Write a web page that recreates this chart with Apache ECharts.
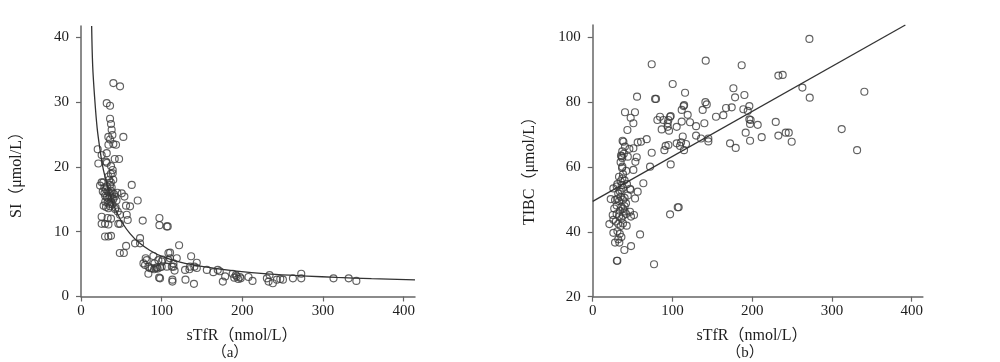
<!DOCTYPE html>
<html>
<head>
<meta charset="utf-8">
<script src="https://cdn.jsdelivr.net/npm/echarts@6/dist/echarts.min.js"></script>
<style>
html,body{margin:0;padding:0;background:#fff;}
#c{width:1000px;height:362px;}
</style>
</head>
<body>
<div id="c"></div>
<script>
// ---------- Data ----------
const xTicks = [0, 100, 200, 300, 400];
const siTicks = [0, 10, 20, 30, 40];
const tibcTicks = [20, 40, 60, 80, 100];

const xName = 'sTfR（nmol/L）';
const siName = 'SI（μmol/L）';
const tibcName = 'TIBC（μmol/L）';
const panelA = '（a）';
const panelB = '（b）';

// Panel (a): sTfR vs SI
const siPoints = [
 [40.1,32.9],[48.4,32.4],[31.9,29.8],[36,29.4],[36,27.4],[37.2,26.6],[38,25.7],[38.9,24.9],[33.9,24.6],[52.5,24.6],
 [36,24.2],[40.1,23.5],[43.4,23.4],[34,23.4],[41.8,21.2],[47.2,21.2],[20.7,22.7],[31.9,22.1],[25.6,21.8],[21.5,20.5],
 [31,20.8],[32,20.6],[37.2,20.1],[39.3,19.5],[39.3,19.0],[37,18.9],[34,18.5],[40,18],[25.6,17.6],[23.6,17.1],[27.7,17.6],
 [29,16.8],[31,16.5],[33,16.2],[35,16.0],[37,16.3],[39,16.0],[41,15.8],[30,15.5],[32,15.3],[34,15.1],[36,15.5],
 [38,15.2],[40,15.0],[42,15.4],[30,14.6],[33,14.5],[35,14.3],[37,14.6],[39,14.2],[31,13.8],[34,13.6],[36,13.9],
 [29,15.9],[32,17.0],[36,17.2],[38,16.8],[27,16.2],[28,14.0],[44,14.8],[45,16.0],[43,13.7],[35,18.0],[37,17.6],
 [62.9,17.2],[70.3,14.8],[53.8,15.4],[50.5,15.9],[55.8,14],[60.8,13.9],[42.2,13.5],[45.5,13.1],[48.4,12.6],[56.7,12.6],
 [57.9,11.8],[25.6,12.3],[25.6,11.2],[33,12.1],[37.2,12],[46.3,11.2],[48.4,11.2],[29.8,11.2],[34,11.1],[29.8,9.25],
 [33.9,9.25],[37.2,9.35],[76.5,11.7],[67,8.2],[73.2,9.0],[73.2,8.2],[55.9,7.8],[48.1,6.7],[53.1,6.7],[97.2,12.1],
 [97.2,11],[106.3,10.8],[107.5,10.8],[121.6,7.9],[108.4,6.7],[101.3,5.7],[80.2,5.9],[77.4,5.1],
 [81.5,5.6],[89.7,6.25],[95.9,5.6],[100.1,5.4],[108.3,5.6],[110.4,6.76],[118.7,5.9],[79.4,4.86],[85.6,4.35],[90.6,4.2],
 [92.7,4.35],[95,4.3],[98,4.5],[83.5,3.5],[96.8,2.9],[87.7,4.37],[91,5.1],[94,4.5],[83.6,4.6],[100,4.6],[106.3,4.6],
 [112.6,4.6],[114.6,4.6],[110.4,5.9],[114.6,5.1],[116,4.0],[129,4.1],[134.4,4.2],
 [136.5,6.2],[143.5,5.2],[135.2,4.6],[140.5,4.6],[143.5,4.4],[98,2.8],[113.3,2.6],[113.3,2.3],[129.5,2.6],[140,1.95],
 [156,4.1],[164,3.75],[169.5,4.1],[172,3.9],[175.8,2.3],[178.7,3.1],[188,3.5],[190,2.9],[193,3.1],[195,2.7],[197,3.0],
 [198,2.8],[192,3.3],[207.6,3],[212.6,2.4],[230.4,2.8],[233.7,3.3],[232.5,2.3],[237.8,2.05],[242.8,2.6],[247,2.7],
 [250.3,2.6],[262.7,2.8],[273,3.5],[273,2.8],[313,2.8],[331.8,2.8],[341.3,2.4]
];
// fitted curve for panel (a)
const siCurve = [
 [13.2,41.7],[14.5,35.5],[17,30.5],[20,26],[23.6,22.6],[27,20],[31.8,17.5],[37,15.2],[44.3,13],[52.5,11.1],
 [60.8,9.7],[71,8.4],[85.6,7.1],[102,6.1],[122.8,5.3],[151.7,4.6],[190,3.95],[234.5,3.45],[280,3.15],[317,2.95],
 [360,2.75],[414,2.55]
];

// Panel (b): sTfR vs TIBC
const tibcPoints = [
 [74,91.7],[141.7,92.8],[186.8,91.4],[271.7,99.5],[100.3,85.6],[232.8,88.2],[238.2,88.4],[262.9,84.5],[272.1,81.4],
 [340.6,83.2],[312.2,71.7],[331.5,65.2],[55.6,81.7],[78.2,81],[79.4,81],[115.8,82.9],[114,78.8],[114.6,79.1],[141.3,80],
 [143,79.3],[176.4,84.3],[178.5,81.5],[190.2,82.2],[188.9,77.8],[196.4,78.8],[194.4,77.3],[196.4,74.7],[198,74.5],
 [197.3,73.3],[206.9,73],[229.5,73.9],[232.8,69.7],[242,70.6],[245.8,70.6],[249.5,67.8],[191.8,70.6],[197.3,68.1],
 [211.9,69.2],[172.2,67.3],[179.3,65.9],[174.3,78.4],[167.2,78.2],[163.8,76],[154.6,75.5],[137.9,77.6],[140,73.5],
 [129.6,72.6],[122,73.8],[119.1,76.1],[111.6,77.6],[111.6,74],[105.3,72.4],[97,75.5],[97.8,75.7],[84.4,75.5],
 [88.6,74.5],[94.9,74.5],[94,73.5],[81.1,74.5],[94,72.4],[86.5,71.6],[95.7,71.2],[112.9,69.4],[129.6,69.7],[135.8,68.8],
 [145,68.8],[145,67.9],[117,67.1],[110.8,67.6],[109.5,66.5],[114.5,65.2],[105.3,67.3],[94.9,66.8],[91.5,66.5],
 [89.9,65.2],[97.8,60.8],[74,64.4],[71.9,60.1],[67.7,68.6],[60.6,67.8],[56.4,67.6],[51,65.8],[55.2,63],[53.5,61.6],
 [51,59.1],[46,65.6],[40.5,66.3],[38.5,67.8],[37.5,68.1],[36.4,63.3],[35.5,63.5],[37,62.8],[44,63.2],[43.5,71.4],
 [47.6,75.2],[51,73.5],[40.5,76.9],[53,76.9],[37.2,60.1],[36.8,59.7],[37.2,56.5],[36.4,54.4],[30.9,54.7],[30.1,54],
 [25.9,53.4],[22.6,50.1],[63.5,55],[46.8,53.3],[47.5,53],[53.1,50.3],[56.4,52.4],[41.8,48.8],[42.6,41.9],[46.8,46.2],
 [48,44.7],[51.8,45.2],[59.4,39.2],[39.7,34.4],[48.1,35.6],[33.4,36.7],[28,36.7],[25.9,39.7],[20.9,42.4],[25.1,45.2],
 [25.9,43.7],[30.9,31.1],[30.3,31.1],[76.9,30],[97,45.4],[106.6,47.6],[107.8,47.6],
 [28,49.8],[31,50.2],[33,49.5],[35,50.8],[38,49.9],[40,50.5],[44,51.2],[32,51.8],[34,52.5],[36,52.9],[38,53.6],
 [35,55.6],[33,57],[38,57.8],[36,47.7],[38,47.2],[40,47.9],[34,46.5],[30,45.5],[33,44.8],[36,44.1],[38,45],
 [29,43.2],[32,42.5],[35,41.8],[38,42.6],[31,40.2],[34,39.4],[36,38.4],[32,37.7],[40,46.3],[42,45.5],[27,47.2],
 [30,48.1],[35,61.5],[37,64.8],[39,64.1],[42,58.8],[40,55.9],[43,54.7]
];
// fitted line for panel (b)
const tibcLine = [[0,49.4],[392,103.8]];

// ---------- Chart ----------
const FONT = "'Liberation Serif', 'Noto Sans CJK SC', serif";
const TXT = '#1e1e1e';
const AX = '#666';

function xAxisCfg(gridIndex){
  return {
    gridIndex, type:'value', min:0, max:414,
    axisLine:{show:true, lineStyle:{color:AX, width:1.5}},
    axisTick:{show:true, length:5, lineStyle:{color:AX, width:1.2}, customValues:xTicks},
    axisLabel:{color:TXT, fontFamily:FONT, fontSize:15, margin:7, customValues:xTicks},
    splitLine:{show:false}
  };
}
function yAxisCfg(gridIndex, min, max, ticks){
  return {
    gridIndex, type:'value', min, max,
    axisLine:{show:true, onZero:false, lineStyle:{color:AX, width:1.5}},
    axisTick:{show:true, length:5, lineStyle:{color:AX, width:1.2}, customValues:ticks},
    axisLabel:{color:TXT, fontFamily:FONT, fontSize:15, margin:12, customValues:ticks},
    splitLine:{show:false}
  };
}
const scatterStyle = {
  symbol:'circle', symbolSize:7,
  itemStyle:{color:'rgba(0,0,0,0)', borderColor:'#3a3a3a', borderWidth:1.15},
  emphasis:{disabled:true}, animation:false
};

const chart = echarts.init(document.getElementById('c'), null, {renderer:'canvas'});
chart.setOption({
  backgroundColor:'#fff',
  animation:false,
  grid:[
    {left:81, top:26, width:334, height:270.5, outerBoundsMode:'none', containLabel:false},
    {left:592.7, top:25, width:330.2, height:271.7, outerBoundsMode:'none', containLabel:false}
  ],
  xAxis:[xAxisCfg(0), xAxisCfg(1)],
  yAxis:[yAxisCfg(0,0,41.7,siTicks), yAxisCfg(1,20,103.8,tibcTicks)],
  series:[
    Object.assign({type:'scatter', xAxisIndex:0, yAxisIndex:0, data:siPoints}, scatterStyle),
    {type:'line', xAxisIndex:0, yAxisIndex:0, data:siCurve, smooth:0.35, showSymbol:false, symbol:'none',
     lineStyle:{color:'#333', width:1.3}, clip:true, z:3},
    Object.assign({type:'scatter', xAxisIndex:1, yAxisIndex:1, data:tibcPoints}, scatterStyle),
    {type:'line', xAxisIndex:1, yAxisIndex:1, data:tibcLine, showSymbol:false, symbol:'none',
     lineStyle:{color:'#333', width:1.3}, clip:true, z:3}
  ],
  graphic:[
    {type:'text', x:242, y:336, style:{text:xName, fill:TXT, font:"16px "+FONT, textAlign:'center', textVerticalAlign:'middle'}},
    {type:'text', x:230, y:353, style:{text:panelA, fill:TXT, font:"15px "+FONT, textAlign:'center', textVerticalAlign:'middle'}},
    {type:'text', x:17, y:171, rotation:Math.PI/2, style:{text:siName, fill:TXT, font:"16px "+FONT, textAlign:'center', textVerticalAlign:'middle'}},
    {type:'text', x:752, y:336, style:{text:xName, fill:TXT, font:"16px "+FONT, textAlign:'center', textVerticalAlign:'middle'}},
    {type:'text', x:745, y:353, style:{text:panelB, fill:TXT, font:"15px "+FONT, textAlign:'center', textVerticalAlign:'middle'}},
    {type:'text', x:530, y:167, rotation:Math.PI/2, style:{text:tibcName, fill:TXT, font:"16px "+FONT, textAlign:'center', textVerticalAlign:'middle'}}
  ]
});
</script>
</body>
</html>
